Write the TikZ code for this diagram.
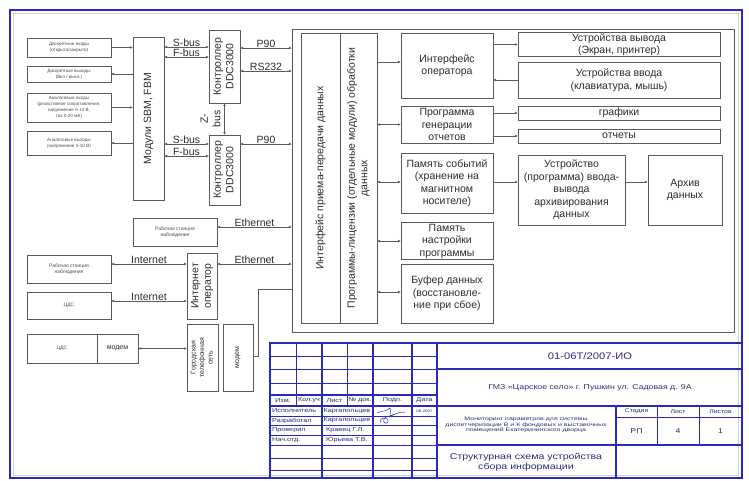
\documentclass[tikz,border=0pt]{standalone}
\usepackage{fontspec}
\setmainfont{Liberation Sans}
\usepackage{graphicx}
\usetikzlibrary{arrows.meta}
\definecolor{lc}{HTML}{5A5A5A}
\definecolor{tc}{HTML}{2E2E2E}
\definecolor{fb}{HTML}{2A2AB8}
\definecolor{tbt}{HTML}{2C2C78}
\newcommand\fsz[2]{\fontsize{#1}{#2}\selectfont}
\newcommand\stx[2][1.25]{\scalebox{#1}[1]{#2}}
\newcommand\rtab[1]{\rotatebox{90}{\begin{tabular}{@{}c@{}}#1\end{tabular}}}
\begin{document}
\begin{tikzpicture}[x=1pt,y=-1pt,
 box/.style={draw=lc,line width=0.8pt,rectangle,inner sep=1pt,outer sep=0pt,align=center,text=tc,font=\fsz{10.5}{12.5}},
 tiny/.style={box,text=tc!85,font=\fsz{4.6}{5.8}},
 conn/.style={draw=lc,line width=0.8pt},
 arr/.style={conn,-{Latex[length=3pt,width=2.6pt]}},
 darr/.style={conn,{Latex[length=3pt,width=2.6pt]}-{Latex[length=3pt,width=2.6pt]}},
 lab/.style={font=\fsz{10.5}{12.5},text=tc,inner sep=0.5pt,anchor=south},
 tthin/.style={draw=fb,line width=0.6pt},
 tthick/.style={draw=fb,line width=1.1pt},
 tt/.style={text=tbt,inner sep=0pt,font=\fsz{5.8}{7}},
]
\useasboundingbox (0,0) rectangle (749,480);
\fill[white] (0,0) rectangle (749,480);
\draw[gray!35,line width=0.6pt] (13,13) rectangle (738,475);
\draw[fb,line width=2pt] (10,10) rectangle (742,478);

% y levels
\coordinate (ySa) at (0,47);
\coordinate (yFa) at (0,57);
\coordinate (ySb) at (0,144);
\coordinate (yFb) at (0,156);
\coordinate (yP1) at (0,48);
\coordinate (yRS) at (0,71);
\coordinate (yP2) at (0,144);
\coordinate (yE1) at (0,227);
\coordinate (yE2) at (0,264);
\coordinate (yI1) at (0,264);
\coordinate (yI2) at (0,301);
\coordinate (yIO) at (0,62);
\coordinate (yM1) at (0,356);
\coordinate (yM2) at (0,289);
\coordinate (yAR) at (0,182);
\coordinate (yBD) at (0,292);

% left inputs
\node[tiny,minimum width=84pt,minimum height=19pt] (di) at (69,47.5) {Дискретные входы\\(открыто/закрыто)};
\node[tiny,minimum width=84pt,minimum height=16pt] (do) at (69,74) {Дискретные выходы\\(Вкл / выкл.)};
\node[tiny,minimum width=84pt,minimum height=29pt] (ai) at (69,107.5) {Аналоговые входы\\(резистивное сопротивление,\\напряжение 0-10 В,\\ток 0-20 мА)};
\node[tiny,minimum width=84pt,minimum height=24pt] (ao) at (69,143) {Аналоговые выходы\\(напряжение 0-10 В)};

\node[box,minimum width=31pt,minimum height=163pt] (mod) at (148.5,118.5) {\rotatebox{90}{Модули SBM, FBM}};
\node[box,minimum width=31pt,minimum height=73pt] (c1) at (224.5,66.5) {\rtab{Контроллер\\DDC3000}};
\node[box,minimum width=31pt,minimum height=70pt] (c2) at (224.5,170) {\rtab{Контроллер\\DDC3000}};

% big box
\node[box,minimum width=442pt,minimum height=303pt] (big) at (513,180.5) {};
\node[box,minimum width=39pt,minimum height=290pt] (col1) at (320.5,178) {\rotatebox{90}{Интерфейс приема-передачи данных}};
\node[box,minimum width=37pt,minimum height=290pt] (col2) at (358.5,178) {\rtab{Программы-лицензии (отдельные модули) обработки\\данных}};

\node[box,minimum width=92pt,minimum height=65pt] (io) at (447,65.5) {Интерфейс\\оператора};
\node[box,minimum width=92pt,minimum height=37pt] (pg) at (447,124.5) {Программа\\генерации\\отчетов};
\node[box,minimum width=92pt,minimum height=60pt] (ps) at (447,183) {Память событий\\(хранение на\\магнитном\\носителе)};
\node[box,minimum width=92pt,minimum height=36pt] (pn) at (447,241) {Память\\настройки\\программы};
\node[box,minimum width=92pt,minimum height=59pt] (bd) at (447,293.5) {Буфер данных\\(восстановле-\\ние при сбое)};

\node[box,minimum width=202pt,minimum height=23pt] (out) at (619,44.5) {Устройства вывода\\(Экран, принтер)};
\node[box,minimum width=202pt,minimum height=36pt] (in) at (619,80) {Устройства ввода\\(клавиатура, мышь)};
\node[box,minimum width=202pt,minimum height=14pt] (gr) at (619,113) {графики};
\node[box,minimum width=202pt,minimum height=14pt] (ot) at (619,136) {отчеты};
\node[box,minimum width=107pt,minimum height=70pt] (ar) at (571.5,190) {Устройство\\(программа) ввода-\\вывода\\архивирования\\данных};
\node[box,minimum width=74pt,minimum height=70pt] (arx) at (685,190) {Архив\\данных};

% bottom left
\node[tiny,font=\fsz{5}{6},minimum width=84pt,minimum height=28pt] (ws1) at (175,232) {Рабочая станция\\наблюдения};
\node[box,minimum width=30pt,minimum height=66pt] (iop) at (202,286) {\rtab{Интернет\\оператор}};
\node[tiny,font=\fsz{5}{6},minimum width=84pt,minimum height=28pt] (ws2) at (69,269) {Рабочая станция\\наблюдения};
\node[tiny,font=\fsz{5}{6},minimum width=84pt,minimum height=27pt] (cds) at (69,305.5) {ЦДС};
\node[tiny,font=\fsz{5}{6},minimum width=70pt,minimum height=29pt] (m1) at (62,348.5) {ЦДС};
\node[box,font=\fsz{7}{8.5},minimum width=41pt,minimum height=29pt] (m2) at (117.5,348.5) {модем};
\node[box,font=\fsz{7}{8.5},minimum width=31pt,minimum height=67pt] (gts) at (202.5,357.5) {\rtab{Городская\\телефонная\\сеть}};
\node[box,font=\fsz{7}{8.5},minimum width=30pt,minimum height=67pt] (md) at (238,357.5) {\rotatebox{90}{модем}};

% connectors left
\draw[arr] (di.east) -- (di.east -| mod.west);
\draw[arr] (do.east -| mod.west) -- (do.east);
\draw[arr] (ai.east) -- (ai.east -| mod.west);
\draw[arr] (ao.east -| mod.west) -- (ao.east);
\draw[darr] (mod.east |- ySa) -- node[lab]{S-bus} (c1.west |- ySa);
\draw[darr] (mod.east |- yFa) -- node[lab]{F-bus} (c1.west |- yFa);
\draw[darr] (mod.east |- ySb) -- node[lab]{S-bus} (c2.west |- ySb);
\draw[darr] (mod.east |- yFb) -- node[lab]{F-bus} (c2.west |- yFb);
\draw[darr] (c1.south) -- node[lab,anchor=east,inner sep=0pt]{\rtab{Z-\\bus}} (c2.north);
\draw[darr] (c1.east |- yP1) -- node[lab]{P90} (big.west |- yP1);
\draw[darr] (c1.east |- yRS) -- node[lab]{RS232} (big.west |- yRS);
\draw[darr] (c2.east |- yP2) -- node[lab]{P90} (big.west |- yP2);
\draw[darr] (ws1.east |- yE1) -- node[lab]{Ethernet} (big.west |- yE1);
\draw[darr] (iop.east |- yE2) -- node[lab]{Ethernet} (big.west |- yE2);
\draw[darr] (ws2.east |- yI1) -- node[lab]{Internet} (iop.west |- yI1);
\draw[darr] (cds.east |- yI2) -- node[lab]{Internet} (iop.west |- yI2);
\draw[darr] (m2.east) -- (m2.east -| gts.west);
\draw[conn] (md.east |- yM1) -- ++(5,0) |- (big.west |- yM2);

% connectors right
\draw[arr] (col2.east |- yIO) -- (io.west |- yIO);
\draw[arr] (io.east |- out.west) -- (out.west);
\draw[arr] (in.west) -- (in.west -| io.east);
\draw[darr] (col2.east |- pg.west) -- (pg.west);
\draw[arr] (pg.east |- gr.west) -- (gr.west);
\draw[arr] (pg.east |- ot.west) -- (ot.west);
\draw[darr] (col2.east |- yAR) -- (ps.west |- yAR);
\draw[arr] (ps.east |- yAR) -- (ar.west |- yAR);
\draw[arr] (ar.east |- yAR) -- (arx.west |- yAR);
\draw[darr] (col2.east |- pn.west) -- (pn.west);
\draw[darr] (col2.east |- yBD) -- (bd.west |- yBD);

% title block
\foreach \yy in {356,369,383,416,425,435,445,458,470} \draw[tthin] (270,\yy) -- (437,\yy);
\foreach \yy in {395,406} \draw[tthick] (270,\yy) -- (437,\yy);
\foreach \xx in {296,347} \draw[tthin] (\xx,343) -- (\xx,406);
\foreach \xx in {322,373,412,437} \draw[tthick] (\xx,343) -- (\xx,478);
\draw[tthick] (270,478) -- (270,343) -- (742,343);
\draw[tthick] (437,369) -- (742,369);
\draw[tthick] (437,406) -- (742,406);
\draw[tthick] (437,445) -- (742,445);
\draw[tthin] (616,417) -- (742,417);
\draw[tthick] (616,406) -- (616,478);
\draw[tthin] (657,406) -- (657,445);
\draw[tthin] (699,406) -- (699,445);

\node[tt] (h1) at (283,400.5) {\stx{Изм.}};
\node[tt] (h2) at (309,400.5) {\stx{Кол.уч}};
\node[tt] (h3) at (334.5,400.5) {\stx{Лист}};
\node[tt] (h4) at (360,400.5) {\stx{№ док.}};
\node[tt] (h5) at (392.5,400.5) {\stx{Подп.}};
\node[tt] (h6) at (424.5,400.5) {\stx{Дата}};
\node[tt,anchor=west] (r1) at (272,411) {\stx{Исполнитель}};
\node[tt,anchor=west] (r2) at (272,420.5) {\stx{Разработал}};
\node[tt,anchor=west] (r3) at (272,430) {\stx{Проверил}};
\node[tt,anchor=west] (r4) at (272,440) {\stx{Нач.отд.}};
\node[tt,anchor=west] (n1) at (323.5,411) {\stx{Каргапольцев}};
\node[tt,anchor=west] (n2) at (323.5,420.5) {\stx{Каргапольцев}};
\node[tt,anchor=west] (n3) at (326,430) {\stx{Кравец Г.Л.}};
\node[tt,anchor=west] (n4) at (326,440) {\stx{Юрьева Т.В.}};
\node[tt,font=\fsz{3.6}{4}] (dt) at (424.5,411) {\stx{08.2007}};
\draw[fb,line width=0.5pt] (377,413) .. controls (383,410) and (386,412) .. (390,408)
  .. controls (392,412) and (387,418) .. (393,415) .. controls (397,413) and (400,412) .. (405,412);
\draw[fb,line width=0.5pt] (381,423) .. controls (378,418) and (386,416) .. (388,420)
  .. controls (390,424) and (382,425) .. (384,419) .. controls (386,415) and (392,417) .. (394,414);

\node[tt,font=\fsz{9.5}{11}] (doc) at (590,356) {\stx[1.18]{01-06Т/2007-ИО}};
\node[tt,font=\fsz{7}{8}] (gmz) at (590,388) {\stx{ГМЗ «Царское село» г. Пушкин ул. Садовая д. 9А}};
\node[tt,font=\fsz{5}{5.4},align=center] (mon) at (526,425) {\stx[1.4]{Мониторинг параметров для системы}\\\stx[1.4]{диспетчеризации В и К фондовых и выставочных}\\\stx[1.4]{помещений Екатерининского дворца}};
\node[tt,font=\fsz{5.5}{6.5}] (s1) at (636.5,411.5) {\stx{Стадия}};
\node[tt,font=\fsz{5.5}{6.5}] (s2) at (678,411.5) {\stx{Лист}};
\node[tt,font=\fsz{5.5}{6.5}] (s3) at (720.5,411.5) {\stx{Листов}};
\node[tt,font=\fsz{7}{8}] (v1) at (636.5,431) {\stx{РП}};
\node[tt,font=\fsz{7}{8}] (v2) at (678,431) {\stx{4}};
\node[tt,font=\fsz{7}{8}] (v3) at (720.5,431) {\stx{1}};
\node[tt,font=\fsz{8.5}{9.5},align=center] (ttl) at (526,462) {\stx{Структурная схема устройства}\\\stx{сбора информации}};
\end{tikzpicture}
\end{document}
